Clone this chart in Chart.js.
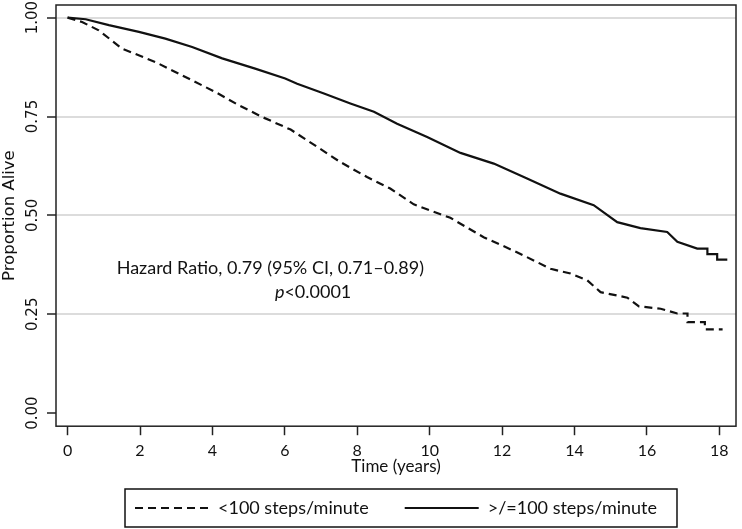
<!DOCTYPE html>
<html>
<head>
<meta charset="utf-8">
<script src="https://cdn.jsdelivr.net/npm/chart.js@4"></script>
<style>
  html, body { margin: 0; padding: 0; background: #fff; }
  #wrap { width: 742px; height: 529px; position: relative; }
</style>
</head>
<body>
<div id="wrap"><canvas id="kmChart"></canvas></div>
<script>
// survival curves
const hiTime = [0, 0.5, 1.14, 1.97, 2.70, 3.44, 4.27, 5.18, 6.01, 6.34, 7.08, 7.81, 8.46, 9.10, 9.93, 10.85, 11.77, 12.69, 13.61, 14.53, 15.18, 15.82, 16.56, 16.84, 17.39, 17.67, 17.67, 17.94, 17.94, 18.22]
const hiSurv = [1.0, 0.996, 0.981, 0.964, 0.947, 0.926, 0.897, 0.871, 0.846, 0.833, 0.808, 0.783, 0.762, 0.732, 0.698, 0.658, 0.631, 0.593, 0.555, 0.526, 0.483, 0.468, 0.458, 0.433, 0.416, 0.416, 0.402, 0.402, 0.388, 0.388]

const loTime = [0, 0.4, 0.86, 1.50, 2.42, 3.34, 4.08, 4.72, 5.37, 6.16, 6.90, 7.53, 8.27, 8.91, 9.56, 10.11, 10.57, 11.49, 12.41, 13.34, 13.89, 14.35, 14.72, 15.46, 15.78, 16.38, 16.84, 17.12, 17.12, 17.60, 17.60, 18.09]
const loSurv = [1.0, 0.989, 0.968, 0.922, 0.888, 0.846, 0.812, 0.779, 0.749, 0.717, 0.673, 0.635, 0.597, 0.568, 0.528, 0.509, 0.494, 0.445, 0.407, 0.365, 0.353, 0.336, 0.306, 0.292, 0.270, 0.264, 0.252, 0.252, 0.230, 0.230, 0.212, 0.212]

const xTicks = [0, 2, 4, 6, 8, 10, 12, 14, 16, 18]
const yTicks = [0, 0.25, 0.5, 0.75, 1]
const yTickLabels = ["0.00", "0.25", "0.50", "0.75", "1.00"]

const seriesNames = ["<100 steps/minute", ">/=100 steps/minute"]
const noteLines = ["Hazard Ratio, 0.79 (95% CI, 0.71\u20130.89)", "<0.0001"]

const toPoints = (ts, ss) => ts.map((t, i) => ({ x: t, y: ss[i] }))

const textFont = "Lato"
const ink = "#111"

// frame round the plot, the rotated y labels, the note and the legend box
const extras = {
  id: "extras",
  afterDraw(chart) {
    const { ctx, chartArea: a, scales } = chart
    ctx.save()
    ctx.strokeStyle = "#222"
    ctx.lineWidth = 1.5
    ctx.strokeRect(a.left, a.top, a.right - a.left, a.bottom - a.top)

    // y tick labels, reading upwards
    ctx.fillStyle = ink
    ctx.font = "15px 'DejaVu Sans'"
    ctx.textAlign = "center"
    ctx.textBaseline = "middle"
    yTicks.forEach((v, i) => {
      const y = scales.y.getPixelForValue(v)
      ctx.save()
      ctx.translate(33, y)
      ctx.rotate(-Math.PI / 2)
      ctx.fillText(yTickLabels[i], 0, 0)
      ctx.restore()
    })

    // hazard ratio note
    const nx = scales.x.getPixelForValue(5.6)
    const ny = scales.y.getPixelForValue(0.366)
    ctx.font = "18px " + textFont
    ctx.textAlign = "center"
    ctx.textBaseline = "middle"
    ctx.fillText(noteLines[0], nx, ny)
    ctx.font = "italic 18px " + textFont
    const pW = ctx.measureText("p").width
    ctx.font = "18px " + textFont
    const restW = ctx.measureText(noteLines[1]).width
    const x2 = scales.x.getPixelForValue(6.78) - (pW + restW) / 2
    ctx.textAlign = "left"
    ctx.font = "italic 18px " + textFont
    ctx.fillText("p", x2, ny + 24)
    ctx.font = "18px " + textFont
    ctx.fillText(noteLines[1], x2 + pW, ny + 24)

    // legend frame
    const boxes = chart.legend.legendHitBoxes
    if (boxes && boxes.length) {
      const l = Math.min(...boxes.map(b => b.left)) - 10
      const r = Math.max(...boxes.map(b => b.left + b.width)) + 20
      const cy = boxes[0].top + boxes[0].height / 2
      ctx.strokeStyle = "#111"
      ctx.lineWidth = 1.5
      ctx.strokeRect(l, cy - 19, r - l, 38)
    }
    ctx.restore()
  }
}

const baseLabels = Chart.defaults.plugins.legend.labels.generateLabels

new Chart(document.getElementById("kmChart"), {
  type: "line",
  data: {
    datasets: [
      {
        label: seriesNames[0],
        data: toPoints(loTime, loSurv),
        borderColor: ink,
        backgroundColor: ink,
        borderWidth: 2.2,
        borderDash: [8, 5],
        pointRadius: 0,
        tension: 0
      },
      {
        label: seriesNames[1],
        data: toPoints(hiTime, hiSurv),
        borderColor: ink,
        backgroundColor: ink,
        borderWidth: 2.2,
        pointRadius: 0,
        tension: 0
      }
    ]
  },
  options: {
    responsive: true,
    maintainAspectRatio: false,
    animation: false,
    layout: { padding: { top: 5, right: 6, left: 0, bottom: 2 } },
    plugins: {
      tooltip: { enabled: false },
      legend: {
        position: "bottom",
        fullSize: false,
        labels: {
          usePointStyle: true,
          pointStyle: "line",
          pointStyleWidth: 74,
          boxHeight: 10,
          padding: 36,
          color: ink,
          font: { family: textFont, size: 18 },
          generateLabels: (chart) => baseLabels(chart).map((item) => {
            const ds = chart.data.datasets[item.datasetIndex]
            item.lineDash = ds.borderDash || []
            item.lineWidth = 2.2
            return item
          })
        }
      }
    },
    scales: {
      x: {
        type: "linear",
        min: -0.32,
        max: 18.46,
        afterBuildTicks: (scale) => { scale.ticks = xTicks.map(v => ({ value: v })) },
        afterFit: (scale) => { scale.height = 36.8 },
        grid: { drawOnChartArea: false, drawTicks: true, tickLength: 9, tickColor: "#222", tickWidth: 1.5 },
        border: { display: false },
        ticks: { color: ink, padding: 6, font: { family: textFont, size: 16 }, maxRotation: 0 },
        title: {
          display: true,
          text: "Time (years)",
          color: ink,
          font: { family: textFont, size: 17 },
          padding: { top: 0, bottom: -13.7 }
        }
      },
      y: {
        min: -0.033,
        max: 1.032,
        afterBuildTicks: (scale) => { scale.ticks = yTicks.map(v => ({ value: v })) },
        afterFit: (scale) => { scale.width = 56 },
        grid: {
          color: (c) => (c.tick && c.tick.value === 0 ? "rgba(0,0,0,0)" : "#dcdcdc"),
          lineWidth: 2,
          drawTicks: true,
          tickLength: 9,
          tickColor: "#222",
          tickWidth: 1.5
        },
        border: { display: false },
        ticks: { display: false },
        title: {
          display: true,
          text: "Proportion Alive",
          color: ink,
          font: { family: "DejaVu Sans", size: 16.5 },
          padding: { top: 0, bottom: 0 }
        }
      }
    }
  },
  plugins: [extras]
})
</script>
</body>
</html>
